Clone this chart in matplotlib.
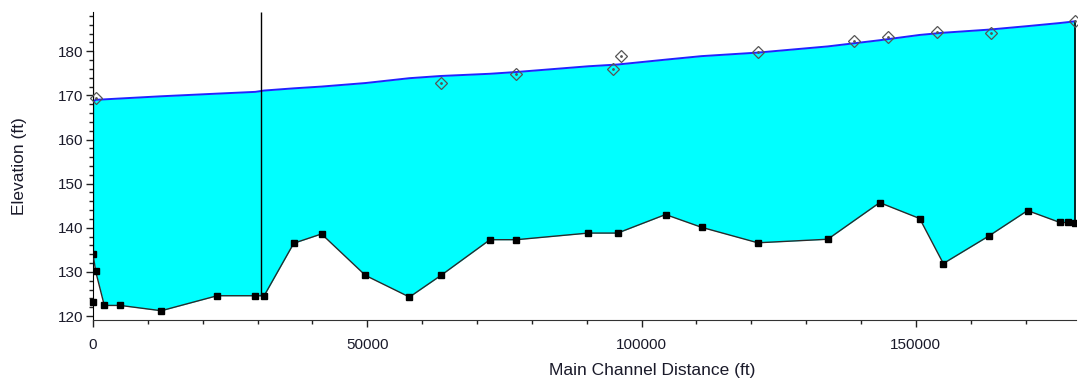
import numpy as np
import matplotlib
matplotlib.use("Agg")
import matplotlib.pyplot as plt
from matplotlib.ticker import MultipleLocator

plt.rcParams["font.family"] = ["Liberation Sans", "DejaVu Sans"]

# main channel stations (ft) with bed and water surface elevations (ft)
station = [0, 490, 2060, 4980, 12440, 22640, 29600, 31200, 36600, 41660,
           49670, 57690, 63420, 72370, 77180, 90290, 95630, 104370, 110960,
           121190, 133940, 143410, 150700, 155010, 163260, 170370, 176270,
           177720, 179050]
bed_elev = [134.1, 130.1, 122.4, 122.4, 121.2, 124.6, 124.6, 124.6, 136.5, 138.6,
            129.2, 124.3, 129.2, 137.3, 137.3, 138.8, 138.8, 143.0, 140.1,
            136.6, 137.4, 145.7, 142.1, 131.9, 138.1, 143.9, 141.2,
            141.2, 141.0]
ws_elev = [168.5, 169.0, 169.1, 169.3, 169.8, 170.4, 170.8, 171.1, 171.6, 172.0,
           172.8, 173.9, 174.4, 174.9, 175.3, 176.6, 177.0, 178.1, 178.9,
           179.7, 181.1, 182.5, 183.7, 184.2, 184.9, 185.7, 186.4,
           186.6, 186.8]

# extra low point at the first section
extra_x = [0]
extra_y = [123.2]

# observed water surface (diamonds)
obs_x = [490, 63440, 77180, 94720, 96170, 121190, 138680, 144870, 153920, 163750, 179050]
obs_y = [169.4, 172.75, 174.9, 175.9, 179.0, 179.9, 182.4, 183.3, 184.4, 184.1, 186.8]

# structure line station
struct_x = 30700

fig = plt.figure(figsize=(10.78, 3.81), dpi=100)
ax = fig.add_axes([93 / 1078, 1 - 320 / 381, 983 / 1078, 308 / 381])

ax.fill_between(station, bed_elev, ws_elev, color="#00ffff", lw=0, zorder=1)
ax.plot(station, ws_elev, color="#2222ff", lw=1.4, zorder=3)
ax.plot(station, bed_elev, color="#2a2a2a", lw=1.0, marker="s", ms=3.8,
        mfc="black", mec="black", zorder=4)
ax.plot(extra_x, extra_y, ls="none", marker="s", ms=3.8, color="black",
        zorder=4, clip_on=False)

# section end lines
ax.vlines(station[0], bed_elev[0], 180, color="black", lw=1.6, zorder=5)
ax.vlines(station[-1], bed_elev[-1], ws_elev[-1], color="black", lw=1.2, zorder=5)
ax.vlines(struct_x, bed_elev[7], 189, color="black", lw=1.0, zorder=5)

# observed ws
ax.plot(obs_x, obs_y, ls="none", marker="D", ms=6.3, mfc="none", mec="#555555",
        mew=0.9, zorder=6, clip_on=False)
ax.plot(obs_x, obs_y, ls="none", marker="o", ms=1.0, color="#555555", zorder=6,
        clip_on=False)

ax.set_xlim(0, 179200)
ax.set_ylim(119.1, 188.9)

ax.xaxis.set_major_locator(MultipleLocator(50000))
ax.xaxis.set_minor_locator(MultipleLocator(10000))
ax.yaxis.set_major_locator(MultipleLocator(10))
ax.yaxis.set_minor_locator(MultipleLocator(2))

ax.spines["top"].set_visible(False)
ax.spines["right"].set_visible(False)
ax.spines["left"].set_color("black")
ax.spines["bottom"].set_color("#333333")

ax.tick_params(which="major", length=5, width=1, color="#222222",
               labelsize=11, labelcolor="#1a1a2a", pad=2)
ax.tick_params(axis="x", which="major", pad=8)
ax.tick_params(which="minor", length=3, width=1, color="#222222")

fig.text(652 / 1078, 1 - 371 / 381, "Main Channel Distance (ft)", ha="center",
         va="center", fontsize=12.5, color="#1a1a2a")
fig.text(20 / 1078, 1 - 166 / 381, "Elevation (ft)", ha="center", va="center",
         rotation=90, fontsize=12.5, color="#1a1a2a")

fig.savefig("out.png", dpi=100)
